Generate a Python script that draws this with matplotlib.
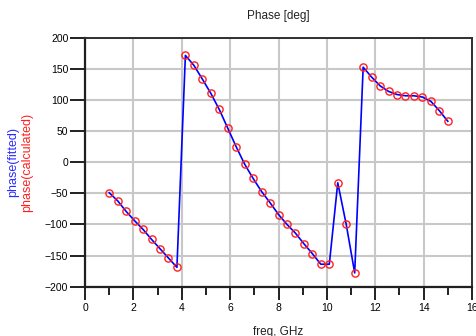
import matplotlib.pyplot as plt

plt.rcParams['font.family'] = ['Liberation Sans', 'DejaVu Sans']

# frequency points, GHz
freq = [1.0, 1.35, 1.7, 2.05, 2.4, 2.75, 3.1, 3.45, 3.8, 4.15,
        4.5, 4.85, 5.2, 5.55, 5.9, 6.25, 6.6, 6.95, 7.3, 7.65,
        8.0, 8.35, 8.7, 9.05, 9.4, 9.75, 10.1, 10.45, 10.8, 11.15,
        11.5, 11.85, 12.2, 12.55, 12.9, 13.25, 13.6, 13.95, 14.3, 14.65,
        15.0]

# calculated phase (red circles), deg
phase_calc = [-49, -62, -79, -94, -108, -124, -139, -154, -169, 172,
              156, 134, 111, 85, 55, 25, -3, -26, -47, -65,
              -84, -100, -114, -131, -147, -164, -164, -33, -100, -178,
              153, 137, 123, 114, 109, 107, 107, 105, 98, 83,
              66]

# fitted phase (blue line), deg
phase_fit = [-49, -62, -79, -94, -108, -124, -139, -154, -169, 172,
             156, 134, 111, 85, 55, 25, -3, -26, -47, -65,
             -84, -100, -114, -131, -147, -164, -164, -33, -100, -178,
             153, 137, 123, 114, 109, 107, 107, 105, 98, 83,
             66]

fig = plt.figure(figsize=(4.76, 3.36), dpi=100)
ax = fig.add_axes([0.1786, 0.147, 0.813, 0.740])

ax.plot(freq, phase_fit, color='#0000ff', lw=1.2, zorder=3)
ax.plot(freq, phase_calc, linestyle='none', marker='o', ms=5.2,
        mfc='none', mec='#ff2020', mew=1.0, zorder=4)

ax.set_xlim(0, 16)
ax.set_ylim(-200, 200)
ax.set_xticks(range(0, 17, 2))
ax.set_xticks(range(1, 16, 2), minor=True)
ax.set_yticks(range(-200, 201, 50))

ax.grid(True, which='major', color='#c8c8c8', lw=1.5)
ax.set_axisbelow(True)

for side in ['left', 'bottom']:
    ax.spines[side].set_linewidth(1.6)
    ax.spines[side].set_color('#202020')
for side in ['top', 'right']:
    ax.spines[side].set_linewidth(1.4)
    ax.spines[side].set_color('#303030')

ax.tick_params(axis='x', which='major', length=9, width=1.4, labelsize=7.5,
               color='#202020', pad=3)
ax.tick_params(axis='x', which='minor', length=6, width=1.4, color='#202020')
ax.tick_params(axis='y', which='major', length=11, width=1.4, labelsize=7.5,
               color='#202020', pad=1)

ax.set_title('Phase [deg]', fontsize=8.5, color='#222222', pad=14)
ax.set_xlabel('freq, GHz', fontsize=8.5, color='#222222', labelpad=9)

fig.text(0.027, 0.518, 'phase(fitted)', rotation=90, color='#2b2bff',
         fontsize=9, ha='center', va='center')
fig.text(0.057, 0.518, 'phase(calculated)', rotation=90, color='#ff2020',
         fontsize=9, ha='center', va='center')

fig.savefig('out.png', dpi=100)
